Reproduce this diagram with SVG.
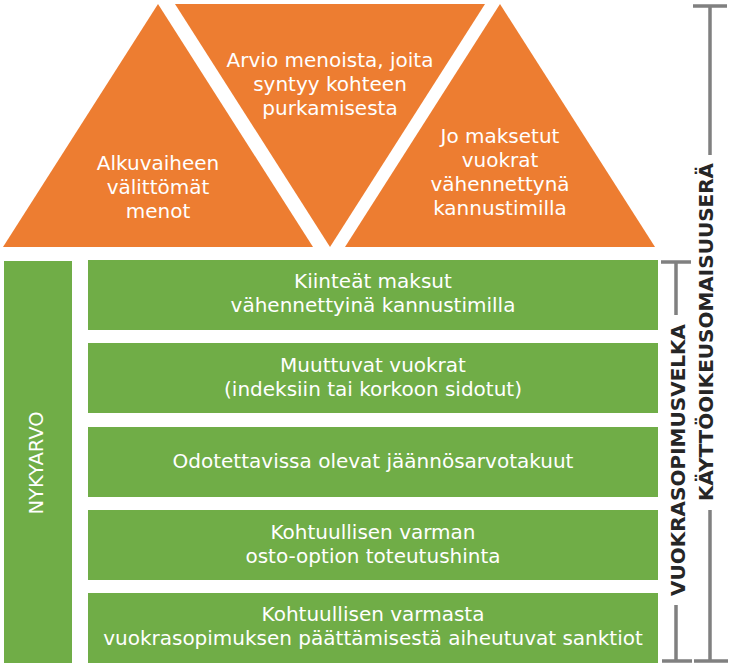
<svg xmlns="http://www.w3.org/2000/svg" width="732" height="668" viewBox="0 0 732 668">
<style>
.tri{fill:#ED7D31}
.box{fill:#70AD47}
.t{font-family:"DejaVu Sans",Verdana,sans-serif;font-size:20px;fill:#FFFFFF;text-anchor:middle}
.lbl{font-family:"DejaVu Sans",Verdana,sans-serif;font-size:20px;font-weight:bold;fill:#262626;text-anchor:middle}
.br{stroke:#808080;stroke-width:3.5;fill:none}
</style>
<rect width="732" height="668" fill="#FFFFFF"/>
<g id="tri-left">
<polygon class="tri" points="158,4 3,247 313,247"/>
<text class="t" x="158" y="170">Alkuvaiheen</text>
<text class="t" x="158" y="194">välittömät</text>
<text class="t" x="158" y="218">menot</text>
</g>
<g id="tri-mid">
<polygon class="tri" points="175,4 485,4 330,247"/>
<text class="t" x="330" y="67">Arvio menoista, joita</text>
<text class="t" x="330" y="91">syntyy kohteen</text>
<text class="t" x="330" y="115">purkamisesta</text>
</g>
<g id="tri-right">
<polygon class="tri" points="500,4 345,247 655,247"/>
<text class="t" x="500" y="143">Jo maksetut</text>
<text class="t" x="500" y="167">vuokrat</text>
<text class="t" x="500" y="191">vähennettynä</text>
<text class="t" x="500" y="215">kannustimilla</text>
</g>
<g id="nykyarvo">
<rect class="box" x="4" y="261" width="68" height="402"/>
<text class="t" style="font-size:19.5px" transform="translate(43,463) rotate(-90)" x="0" y="0">NYKYARVO</text>
</g>
<g id="box1">
<rect class="box" x="88" y="260" width="570" height="70"/>
<text class="t" x="373" y="288">Kiinteät maksut</text>
<text class="t" x="373" y="312">vähennettyinä kannustimilla</text>
</g>
<g id="box2">
<rect class="box" x="88" y="343" width="570" height="70"/>
<text class="t" x="373" y="372">Muuttuvat vuokrat</text>
<text class="t" x="373" y="396">(indeksiin tai korkoon sidotut)</text>
</g>
<g id="box3">
<rect class="box" x="88" y="427" width="570" height="70"/>
<text class="t" x="373" y="468">Odotettavissa olevat jäännösarvotakuut</text>
</g>
<g id="box4">
<rect class="box" x="88" y="510" width="570" height="70"/>
<text class="t" x="373" y="539">Kohtuullisen varman</text>
<text class="t" x="373" y="563">osto-option toteutushinta</text>
</g>
<g id="box5">
<rect class="box" x="88" y="593" width="570" height="70"/>
<text class="t" x="373" y="621">Kohtuullisen varmasta</text>
<text class="t" x="373" y="645">vuokrasopimuksen päättämisestä aiheutuvat sanktiot</text>
</g>
<g id="connectors">
<path class="br" d="M661,262 H691 M676,262 V315 M676,605 V661 M662,661 H692"/>
<path class="br" d="M693,6 H727 M710,6 V155 M710,510 V661 M694,661 H728"/>
</g>
<g id="vuokrasopimusvelka">
<text class="lbl" transform="translate(685,460) rotate(-90)" x="0" y="0">VUOKRASOPIMUSVELKA</text>
</g>
<g id="kayttooikeusomaisuusera">
<text class="lbl" transform="translate(713,332) rotate(-90)" x="0" y="0">KÄYTTÖOIKEUSOMAISUUSERÄ</text>
</g>
</svg>
